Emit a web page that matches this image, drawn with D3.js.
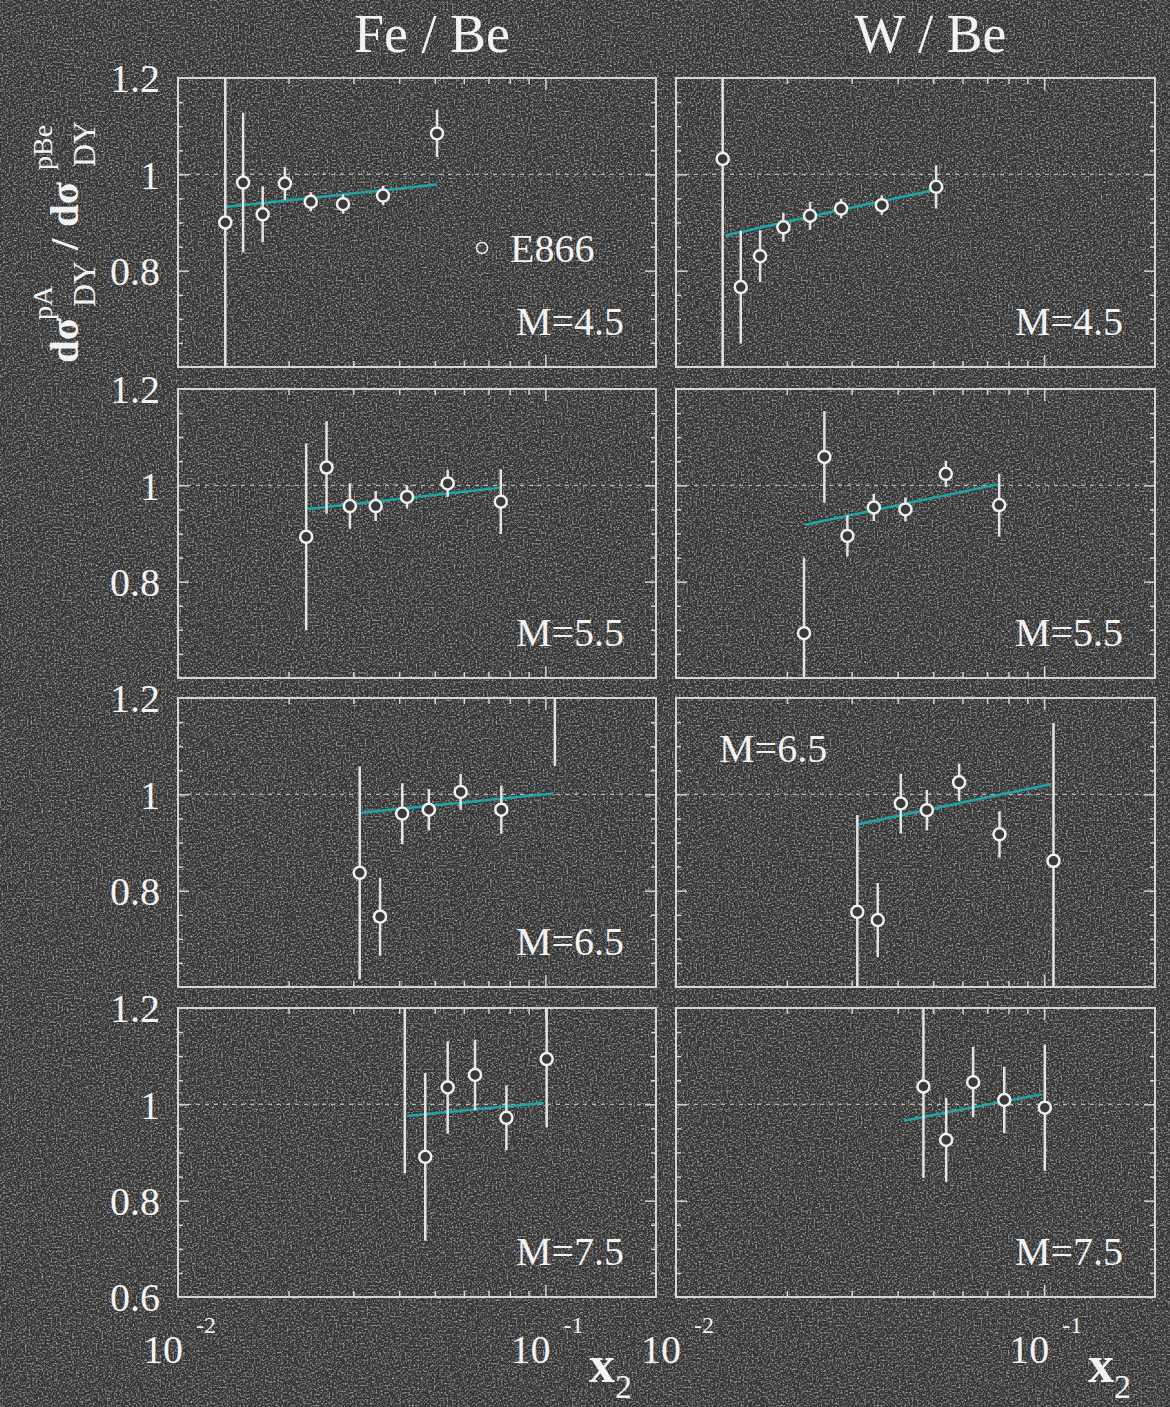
<!DOCTYPE html>
<html>
<head>
<meta charset="utf-8">
<script src="https://cdn.jsdelivr.net/npm/d3@7"></script>
<style>
  body { margin: 0; background: #333333; }
  svg { display: block; }
  text { font-family: "Liberation Serif", "Times New Roman", serif; fill: #f2f2f2; }
</style>
</head>
<body>
<svg id="chart" width="1170" height="1407"></svg>
<script>
// E866 Drell-Yan ratios, points as [x2, ratio, error]
const feM45 = [[0.01345, 0.900, 0.35], [0.01504, 0.983, 0.145], [0.0170, 0.917, 0.058], [0.01954, 0.981, 0.034],
  [0.02298, 0.943, 0.02], [0.02813, 0.938, 0.02], [0.03614, 0.956, 0.02], [0.0507, 1.085, 0.049]];
const wM45 = [[0.01339, 1.032, 0.45], [0.01499, 0.766, 0.117], [0.01692, 0.830, 0.054], [0.01957, 0.890, 0.03],
  [0.02312, 0.914, 0.029], [0.02808, 0.929, 0.02], [0.03622, 0.936, 0.02], [0.05088, 0.974, 0.045]];
const feM55 = [[0.02233, 0.893, 0.194], [0.02537, 1.037, 0.096], [0.02936, 0.957, 0.047], [0.03452, 0.957, 0.031],
  [0.04201, 0.976, 0.024], [0.0542, 1.004, 0.028], [0.0756, 0.966, 0.067]];
const wM55 = [[0.02227, 0.693, 0.157], [0.02529, 1.059, 0.095], [0.02921, 0.895, 0.043], [0.03446, 0.954, 0.028],
  [0.04199, 0.950, 0.025], [0.05406, 1.024, 0.027], [0.07547, 0.959, 0.065]];
const feM65 = [[0.03123, 0.837, 0.221], [0.03548, 0.746, 0.081], [0.04076, 0.960, 0.063], [0.04817, 0.968, 0.043],
  [0.05879, 1.005, 0.037], [0.07585, 0.968, 0.05], [0.1061, 1.30, 0.241]];
const wM65 = [[0.03108, 0.756, 0.201], [0.03532, 0.739, 0.077], [0.04079, 0.981, 0.062], [0.04802, 0.967, 0.042],
  [0.05875, 1.025, 0.039], [0.07562, 0.917, 0.048], [0.1060, 0.862, 0.286]];
const feM75 = [[0.04143, 1.25, 0.393], [0.0471, 0.891, 0.174], [0.0542, 1.035, 0.096], [0.06434, 1.061, 0.073],
  [0.07832, 0.972, 0.067], [0.1008, 1.094, 0.142]];
const wM75 = [[0.0470, 1.037, 0.19], [0.05418, 0.926, 0.087], [0.06413, 1.046, 0.073], [0.07791, 1.009, 0.069],
  [0.1004, 0.993, 0.131]];

// model curves (teal)
const feM45Fit = [[0.01345, 0.932], [0.0507, 0.979]];
const wM45Fit = [[0.0136, 0.873], [0.0279, 0.926], [0.050, 0.967]];
const feM55Fit = [[0.0226, 0.951], [0.0750, 0.995]];
const wM55Fit = [[0.0224, 0.918], [0.0747, 1.002]];
const feM65Fit = [[0.03146, 0.962], [0.1053, 1.002]];
const wM65Fit = [[0.0313, 0.938], [0.1043, 1.021]];
const feM75Fit = [[0.04201, 0.976], [0.0989, 1.003]];
const wM75Fit = [[0.04157, 0.966], [0.0986, 1.021]];

const columnTitles = ["Fe / Be", "W / Be"];
const massLabels = ["M=4.5", "M=5.5", "M=6.5", "M=7.5"];
const legendLabel = "E866";

const xDomain = [0.01, 0.2];
const yDomain = [0.6, 1.2];
const yLabelTicks = [1.2, 1, 0.8];
const yMajorTicks = [0.8, 1.0];
const yMinorTicks = [0.65, 0.7, 0.75, 0.85, 0.9, 0.95, 1.05, 1.1, 1.15];
const xMajorTicks = [0.1];
const xMinorTicks = [0.02, 0.03, 0.04, 0.05, 0.06, 0.07, 0.08, 0.09];
const xLabelTicks = [[0.01, "-2"], [0.1, "-1"]];

const panels = [
  [feM45, feM45Fit, wM45, wM45Fit],
  [feM55, feM55Fit, wM55, wM55Fit],
  [feM65, feM65Fit, wM65, wM65Fit],
  [feM75, feM75Fit, wM75, wM75Fit]
];

let cols = [{ x0: 178, x1: 656 }, { x0: 676, x1: 1155 }],
  rowTops = [78, 389, 698, 1008],
  rowH = 289;

let frameColor = "#d6d6d6",
  pointColor = "#f0f0f0",
  teal = "#1ea7a9",
  bg = "#343434";

let svg = d3.select("#chart");
let defs = svg.append("defs");

// grainy photo background
let grain = defs.append("filter").attr("id", "grain")
  .attr("x", 0).attr("y", 0).attr("width", "100%").attr("height", "100%");
grain.append("feTurbulence")
  .attr("type", "fractalNoise")
  .attr("baseFrequency", 0.55)
  .attr("numOctaves", 2)
  .attr("seed", 11)
  .attr("stitchTiles", "stitch");
grain.append("feColorMatrix")
  .attr("type", "matrix")
  .attr("values", "0 0 0 0 1  0 0 0 0 1  0 0 0 0 1  1.4 0 0 0 -0.62");

svg.append("rect").attr("width", 1170).attr("height", 1407).attr("fill", bg);
svg.append("rect").attr("width", 1170).attr("height", 1407).attr("filter", "url(#grain)");

function styleAxis(sel) {
  sel.select(".domain").remove();
  sel.selectAll("line").attr("stroke", frameColor).attr("stroke-width", 1.5);
  sel.selectAll("text").remove();
}

panels.forEach((row, r) => {
  [0, 1].forEach((c) => {
    let data = row[c * 2],
      fit = row[c * 2 + 1];
    let top = rowTops[r],
      bottom = top + rowH,
      x0 = cols[c].x0,
      x1 = cols[c].x1;

    let xScale = d3.scaleLog().domain(xDomain).range([x0, x1]);
    let yScale = d3.scaleLinear().domain(yDomain).range([bottom, top]);

    let clipId = "clip" + r + c;
    defs.append("clipPath").attr("id", clipId)
      .append("rect").attr("x", x0).attr("y", top).attr("width", x1 - x0).attr("height", rowH);

    let g = svg.append("g");

    // dotted unity line
    g.append("line")
      .attr("x1", x0).attr("x2", x1)
      .attr("y1", yScale(1)).attr("y2", yScale(1))
      .attr("stroke", "#b8b8b8")
      .attr("stroke-width", 1.2)
      .attr("stroke-dasharray", "4,5");

    // inward ticks on all four sides
    g.append("g").attr("transform", "translate(" + x0 + ",0)")
      .call(d3.axisLeft(yScale).tickValues(yMinorTicks).tickSize(-5)).call(styleAxis);
    g.append("g").attr("transform", "translate(" + x0 + ",0)")
      .call(d3.axisLeft(yScale).tickValues(yMajorTicks).tickSize(-11)).call(styleAxis);
    g.append("g").attr("transform", "translate(" + x1 + ",0)")
      .call(d3.axisRight(yScale).tickValues(yMinorTicks).tickSize(-5)).call(styleAxis);
    g.append("g").attr("transform", "translate(" + x1 + ",0)")
      .call(d3.axisRight(yScale).tickValues(yMajorTicks).tickSize(-11)).call(styleAxis);
    g.append("g").attr("transform", "translate(0," + top + ")")
      .call(d3.axisTop(xScale).tickValues(xMinorTicks).tickSize(-6)).call(styleAxis);
    g.append("g").attr("transform", "translate(0," + top + ")")
      .call(d3.axisTop(xScale).tickValues(xMajorTicks).tickSize(-12)).call(styleAxis);
    g.append("g").attr("transform", "translate(0," + bottom + ")")
      .call(d3.axisBottom(xScale).tickValues(xMinorTicks).tickSize(-6)).call(styleAxis);
    g.append("g").attr("transform", "translate(0," + bottom + ")")
      .call(d3.axisBottom(xScale).tickValues(xMajorTicks).tickSize(-12)).call(styleAxis);

    g.append("rect")
      .attr("x", x0).attr("y", top)
      .attr("width", x1 - x0).attr("height", rowH)
      .attr("fill", "none")
      .attr("stroke", frameColor)
      .attr("stroke-width", 2);

    let plot = g.append("g").attr("clip-path", "url(#" + clipId + ")");

    let line = d3.line()
      .x((d) => xScale(d[0]))
      .y((d) => yScale(d[1]));

    plot.append("path")
      .datum(fit)
      .attr("d", line)
      .attr("fill", "none")
      .attr("stroke", teal)
      .attr("stroke-width", 2.5);

    plot.selectAll(".err")
      .data(data)
      .join("line")
      .attr("class", "err")
      .attr("x1", (d) => xScale(d[0]))
      .attr("x2", (d) => xScale(d[0]))
      .attr("y1", (d) => yScale(d[1] - d[2]))
      .attr("y2", (d) => yScale(d[1] + d[2]))
      .attr("stroke", "#e4e4e4")
      .attr("stroke-width", 2.5);

    plot.selectAll(".pt")
      .data(data)
      .join("circle")
      .attr("class", "pt")
      .attr("cx", (d) => xScale(d[0]))
      .attr("cy", (d) => yScale(d[1]))
      .attr("r", 6)
      .attr("fill", "#3a3a3a")
      .attr("stroke", pointColor)
      .attr("stroke-width", 2.5);

    // mass label
    let lab = g.append("text").style("font-size", "40px").text(massLabels[r]);
    if (r == 2 && c == 1) {
      lab.attr("x", x0 + 43).attr("y", top + 64);
    } else {
      lab.attr("x", x1 - 32).attr("y", bottom - 32).attr("text-anchor", "end");
    }

    // legend
    if (r == 0 && c == 0) {
      g.append("circle")
        .attr("cx", 482).attr("cy", 248).attr("r", 5.5)
        .attr("fill", "none").attr("stroke", pointColor).attr("stroke-width", 1.5);
      g.append("text").attr("x", 510).attr("y", 262).style("font-size", "40px").text(legendLabel);
    }

    // y tick labels on the left column
    if (c == 0) {
      let labs = r == 3 ? yLabelTicks.concat([0.6]) : yLabelTicks;
      labs.forEach((v) => {
        g.append("text")
          .attr("x", 160)
          .attr("y", yScale(v))
          .attr("dy", "0.36em")
          .attr("text-anchor", "end")
          .style("font-size", "40px")
          .text(v);
      });
    }

    // x tick labels on the bottom row
    if (r == 3) {
      xLabelTicks.forEach((t) => {
        let px = xScale(t[0]);
        g.append("text").attr("x", px + 5).attr("y", 1363)
          .attr("text-anchor", "end").style("font-size", "40px").text("10");
        g.append("text").attr("x", px + 18).attr("y", 1333)
          .style("font-size", "24px").text(t[1]);
      });
      g.append("text").attr("x", x1 - 67).attr("y", 1382)
        .style("font-size", "52px").style("font-weight", "bold").text("x");
      g.append("text").attr("x", x1 - 41).attr("y", 1398)
        .style("font-size", "34px").text("2");
    }
  });
});

// column titles
columnTitles.forEach((t, i) => {
  svg.append("text")
    .attr("x", (cols[i].x0 + cols[i].x1) / 2 + 15)
    .attr("y", 52)
    .attr("text-anchor", "middle")
    .style("font-size", "54px")
    .text(t);
});

// rotated y title: d sigma^pA_DY / d sigma^pBe_DY
let yt = svg.append("g").attr("transform", "translate(78,363) rotate(-90)");
function piece(str, x, y, size, weight) {
  yt.append("text").attr("x", x).attr("y", y)
    .style("font-size", size + "px")
    .style("font-weight", weight)
    .text(str);
}
piece("dσ", 0, 0, 41, "bold");
piece("pA", 43, -26, 28, "normal");
piece("DY", 56, 17, 32, "normal");
piece("/", 113, 0, 41, "bold");
piece("dσ", 136, 0, 41, "bold");
piece("pBe", 193, -26, 28, "normal");
piece("DY", 196, 17, 32, "normal");
</script>
</body>
</html>
